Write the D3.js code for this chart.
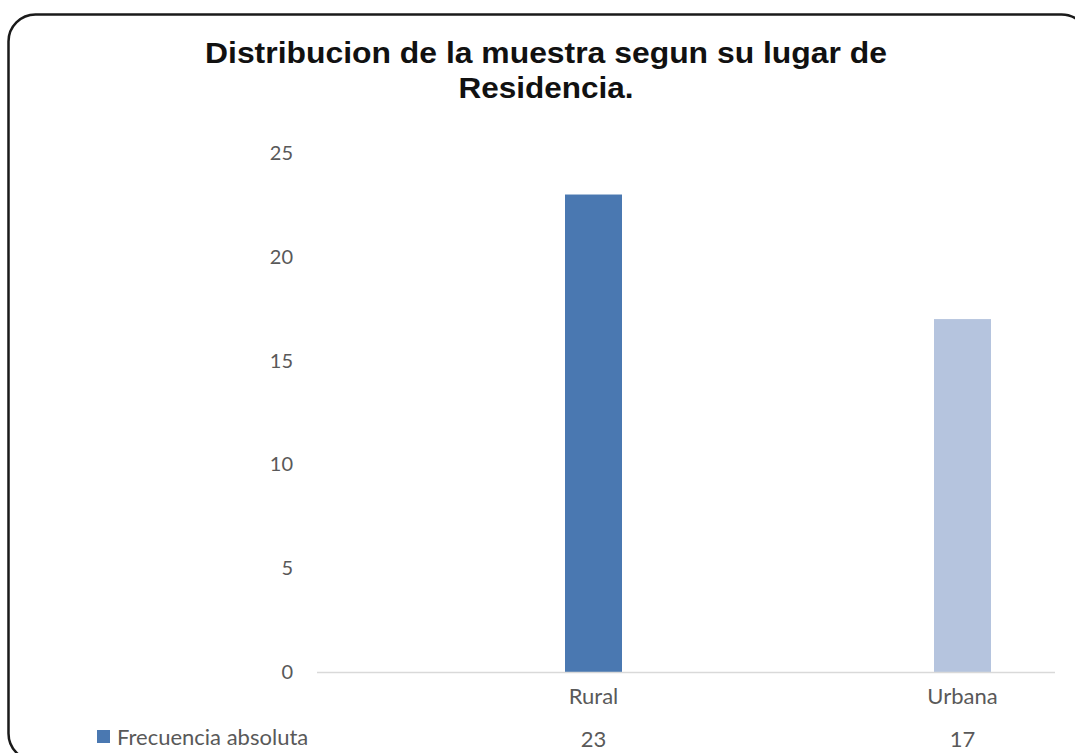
<!DOCTYPE html>
<html>
<head>
<meta charset="utf-8">
<script src="https://d3js.org/d3.v7.min.js"></script>
<style>
  body { margin: 0; background: #fff; }
  svg { display: block; }
</style>
</head>
<body>
<div id="chart"></div>
<script>
  // data
  var categories = ["Rural", "Urbana"];
  var values = [23, 17];
  var seriesName = "Frecuencia absoluta";
  var yTicks = [0, 5, 10, 15, 20, 25];
  var titleLines = ["Distribucion de la muestra segun su lugar de", "Residencia."];
  var titleWidths = [682, 175];

  var W = 1075, H = 753;
  var plot = { left: 317, right: 1055, top: 153, bottom: 672 };
  var barW = 57, barShift = 92;
  var colors = ["#4a78b1", "#b5c4de"];
  var labelFont = "Lato, 'Open Sans', sans-serif";

  var svg = d3.select("#chart").append("svg")
      .attr("width", W)
      .attr("height", H);

  // rounded frame, cut by the window on right and bottom
  svg.append("rect")
      .attr("x", 8.5).attr("y", 14.5)
      .attr("width", 1080).attr("height", 746)
      .attr("rx", 27).attr("ry", 27)
      .attr("fill", "#fff")
      .attr("stroke", "#1a1a1a")
      .attr("stroke-width", 2.5);

  // title
  svg.selectAll(".title")
      .data(titleLines)
      .enter().append("text")
      .attr("class", "title")
      .attr("x", 546)
      .attr("y", function (d, i) { return 63 + i * 35; })
      .attr("text-anchor", "middle")
      .attr("textLength", function (d, i) { return titleWidths[i]; })
      .attr("lengthAdjust", "spacingAndGlyphs")
      .style("font-family", "'Liberation Sans', Arial, sans-serif")
      .style("font-weight", "bold")
      .style("font-size", "30px")
      .style("fill", "#111")
      .text(function (d) { return d; });

  var x = d3.scaleBand()
      .domain(categories)
      .range([plot.left, plot.right]);

  var y = d3.scaleLinear()
      .domain([0, 25])
      .range([plot.bottom, plot.top]);

  function cx(c) { return x(c) + x.bandwidth() / 2 + barShift; }

  // y axis labels (no axis line)
  var yAxis = d3.axisLeft(y).tickValues(yTicks).tickSize(0).tickPadding(0);
  var gy = svg.append("g")
      .attr("transform", "translate(293,0)")
      .call(yAxis);
  gy.select(".domain").remove();
  gy.selectAll("text")
      .style("font-family", labelFont)
      .style("font-size", "20px")
      .style("fill", "#595959");

  // bars
  svg.selectAll(".bar")
      .data(values)
      .enter().append("rect")
      .attr("class", "bar")
      .attr("x", function (d, i) { return cx(categories[i]) - barW / 2; })
      .attr("y", function (d) { return y(d); })
      .attr("width", barW)
      .attr("height", function (d) { return y(0) - y(d); })
      .attr("fill", function (d, i) { return colors[i]; });

  // baseline
  svg.append("line")
      .attr("x1", plot.left).attr("x2", plot.right)
      .attr("y1", y(0) + 0.5).attr("y2", y(0) + 0.5)
      .attr("stroke", "#d9d9d9")
      .attr("stroke-width", 1.5);

  // category labels
  svg.selectAll(".cat")
      .data(categories)
      .enter().append("text")
      .attr("class", "cat")
      .attr("x", function (d) { return cx(d); })
      .attr("y", 704)
      .attr("text-anchor", "middle")
      .style("font-family", labelFont)
      .style("font-size", "22px")
      .style("fill", "#595959")
      .text(function (d) { return d; });

  // data table row
  svg.append("rect")
      .attr("x", 97).attr("y", 730)
      .attr("width", 13).attr("height", 13)
      .attr("fill", colors[0]);

  svg.append("text")
      .attr("x", 117).attr("y", 745)
      .style("font-family", labelFont)
      .style("font-size", "22px")
      .style("fill", "#595959")
      .text(seriesName);

  svg.selectAll(".val")
      .data(values)
      .enter().append("text")
      .attr("class", "val")
      .attr("x", function (d, i) { return cx(categories[i]); })
      .attr("y", 747)
      .attr("text-anchor", "middle")
      .style("font-family", labelFont)
      .style("font-size", "22px")
      .style("fill", "#595959")
      .text(function (d) { return d; });
</script>
</body>
</html>
